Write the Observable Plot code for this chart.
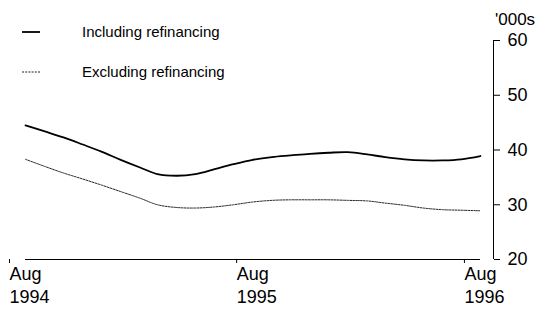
<!DOCTYPE html>
<html>
<head>
<meta charset="utf-8">
<script src="https://cdn.jsdelivr.net/npm/d3@7"></script>
<script src="https://cdn.jsdelivr.net/npm/@observablehq/plot@0.6"></script>
<style>
  html, body { margin: 0; padding: 0; background: #fff; }
  #chart svg { display: block; }
</style>
</head>
<body>
<div id="chart"></div>
<script>
// Monthly values, Aug 1994 .. Aug 1996 ('000s)
const startYear = 1994, startMonth = 7; // August
const including = [44.5, 43.4, 42.3, 41.0, 39.7, 38.2, 36.8, 35.6, 35.3, 35.6, 36.5, 37.4, 38.2,
                   38.7, 39.0, 39.3, 39.5, 39.6, 39.2, 38.7, 38.3, 38.1, 38.1, 38.3, 38.9];
const excluding = [38.3, 37.0, 35.8, 34.7, 33.6, 32.4, 31.2, 30.0, 29.5, 29.4, 29.6, 30.0, 30.5,
                   30.8, 30.9, 30.9, 30.9, 30.8, 30.7, 30.3, 29.9, 29.4, 29.1, 29.0, 28.9];
const seriesNames = ["Including refinancing", "Excluding refinancing"];
const xTickDates = [new Date(1994, 7, 1), new Date(1995, 7, 1), new Date(1996, 7, 1)];
const xTickLabels = ["Aug\n1994", "Aug\n1995", "Aug\n1996"];
const yTicks = [20, 30, 40, 50, 60];
const yUnit = "'000s";

const months = including.map((_, i) => new Date(startYear, startMonth + i, 1));
const data = [
  ...including.map((v, i) => ({date: months[i], value: v, series: seriesNames[0]})),
  ...excluding.map((v, i) => ({date: months[i], value: v, series: seriesNames[1]}))
];

const font = "'Liberation Sans', Arial, sans-serif";
const xStart = months[0];
const xEnd = new Date(1996, 7, 22);

const styles = {
  [seriesNames[0]]: {stroke: "#000", width: 1.8, dash: null},
  [seriesNames[1]]: {stroke: "#222", width: 1, dash: "2,1.2"}
};

const chart = Plot.plot({
  width: 543,
  height: 309,
  marginLeft: 25,
  marginRight: 50,
  marginTop: 40,
  marginBottom: 50,
  style: {fontFamily: font, background: "#fff", color: "#000"},
  x: {type: "time", domain: [xStart, xEnd]},
  y: {domain: [20, 60]},
  marks: [
    Plot.ruleY([20], {x1: xTickDates[0], x2: xTickDates[2], stroke: "#000", strokeWidth: 1}),
    Plot.ruleX([xEnd], {y1: 20, y2: 60, stroke: "#000", strokeWidth: 1}),
    Plot.axisX({
      ticks: xTickDates,
      tickFormat: (d) => xTickLabels[xTickDates.findIndex(t => +t === +d)],
      tickSize: 4,
      tickPadding: 1,
      textAnchor: "start",
      dx: -16,
      lineHeight: 1.25,
      fontSize: 18,
      label: null
    }),
    Plot.axisY({
      anchor: "right",
      ticks: yTicks,
      tickSize: 6,
      tickPadding: 8,
      fontSize: 18,
      label: null
    }),
    ...seriesNames.map(name => Plot.line(data.filter(d => d.series === name), {
      x: "date", y: "value", curve: "catmull-rom",
      stroke: styles[name].stroke,
      strokeWidth: styles[name].width,
      strokeDasharray: styles[name].dash
    }))
  ]
});

document.getElementById("chart").appendChild(chart);

// unit label and legend inside the svg
const svg = d3.select(chart);
svg.append("text")
  .attr("x", 495).attr("y", 25)
  .attr("text-anchor", "start")
  .attr("font-family", font).attr("font-size", 17)
  .text(yUnit);

const leg = svg.append("g").attr("font-family", font).attr("font-size", 15).attr("text-anchor", "start");
seriesNames.forEach((name, i) => {
  const cy = 32 + i * 40;
  leg.append("line")
    .attr("x1", 22).attr("x2", 40).attr("y1", cy).attr("y2", cy)
    .attr("stroke", styles[name].stroke)
    .attr("stroke-width", styles[name].width)
    .attr("stroke-dasharray", styles[name].dash);
  leg.append("text")
    .attr("x", 82).attr("y", cy + 5)
    .text(name);
});
</script>
</body>
</html>
